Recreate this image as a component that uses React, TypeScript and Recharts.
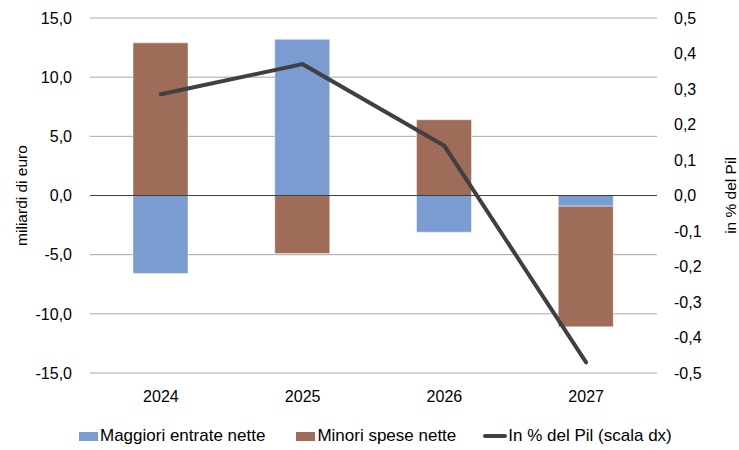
import { Bar, CartesianGrid, ComposedChart, Legend, Line, ReferenceLine, XAxis, YAxis } from "recharts";

const years = ["2024", "2025", "2026", "2027"];
const maggioriEntrate = [-6.6, 13.2, -3.1, -0.9];
const minoriSpese = [12.9, -4.9, 6.4, -10.2];
const quotaPil = [0.285, 0.37, 0.14, -0.47];

const leftTicks = [-15, -10, -5, 0, 5, 10, 15];
const rightTicks = [-0.5, -0.4, -0.3, -0.2, -0.1, 0, 0.1, 0.2, 0.3, 0.4, 0.5];

const BLUE = "#7A9CD0";
const BROWN = "#9E6C59";
const LINE = "#404040";
const FONT = "'Liberation Sans', Arial, sans-serif";

const data = years.map((year, i) => ({
    year,
    entrate: maggioriEntrate[i],
    spese: minoriSpese[i],
    pil: quotaPil[i],
}));

const fmt = (v: number) => v.toFixed(1).replace(".", ",");

const legendItems = [
    { label: "Maggiori entrate nette", color: BLUE, kind: "box", gap: 31 },
    { label: "Minori spese nette", color: BROWN, kind: "box", gap: 27 },
    { label: "In % del Pil (scala dx)", color: LINE, kind: "line", gap: 0 },
];

function CustomLegend() {
    return (
        <div style={{ display: "flex", alignItems: "center", paddingLeft: 79, fontFamily: FONT, fontSize: 17, color: "#000" }}>
            {legendItems.map(item => (
                <div key={item.label} style={{ display: "flex", alignItems: "center", marginRight: item.gap }}>
                    {item.kind === "box"
                        ? <span style={{ display: "inline-block", width: 19, height: 9, background: item.color, marginRight: 2 }} />
                        : <span style={{ display: "inline-block", width: 24, height: 4, borderRadius: 2, background: item.color, marginRight: 1 }} />}
                    <span>{item.label}</span>
                </div>
            ))}
        </div>
    );
}

export default function App() {
    const tickStyle = { fill: "#000", fontSize: 16, fontFamily: FONT };
    return (
        <div style={{ position: "absolute", left: 0, top: 0, background: "#fff" }}>
            <ComposedChart
                width={739}
                height={450}
                data={data}
                stackOffset="sign"
                margin={{ top: 18, right: 0, left: 0, bottom: 47 }}
            >
                <CartesianGrid yAxisId="left" vertical={false} stroke="#A6A6A6" />
                <XAxis dataKey="year" axisLine={false} tickLine={false} tickMargin={12} height={30} tick={tickStyle} />
                <YAxis
                    yAxisId="left"
                    domain={[-15, 15]}
                    ticks={leftTicks}
                    tickFormatter={fmt}
                    axisLine={false}
                    tickLine={false}
                    tickMargin={12}
                    width={90}
                    tick={tickStyle}
                    label={{ value: "miliardi di euro", angle: -90, position: "center", dx: -24, style: { fontSize: 15.5, fontFamily: FONT, fill: "#000" } }}
                />
                <YAxis
                    yAxisId="right"
                    orientation="right"
                    domain={[-0.5, 0.5]}
                    ticks={rightTicks}
                    tickFormatter={fmt}
                    axisLine={false}
                    tickLine={false}
                    tickMargin={11}
                    width={82}
                    tick={tickStyle}
                    label={{ value: "in % del Pil", angle: -90, position: "center", dx: 32, style: { fontSize: 15.5, fontFamily: FONT, fill: "#000" } }}
                />
                <Bar yAxisId="left" dataKey="entrate" name="Maggiori entrate nette" stackId="a" fill={BLUE} stroke="#ffffff" strokeOpacity={0.45} barSize={55} isAnimationActive={false} />
                <Bar yAxisId="left" dataKey="spese" name="Minori spese nette" stackId="a" fill={BROWN} stroke="#ffffff" strokeOpacity={0.45} barSize={55} isAnimationActive={false} />
                <ReferenceLine yAxisId="left" y={0} stroke={LINE} strokeWidth={1} />
                <Line yAxisId="right" dataKey="pil" name="In % del Pil (scala dx)" type="linear" stroke={LINE} strokeWidth={4} strokeLinecap="round" dot={false} activeDot={false} isAnimationActive={false} />
                <Legend
                    layout="horizontal"
                    verticalAlign="middle"
                    align="center"
                    content={() => <CustomLegend />}
                    wrapperStyle={{ left: 0, top: 426, width: 739, height: 24 }}
                />
            </ComposedChart>
        </div>
    );
}
